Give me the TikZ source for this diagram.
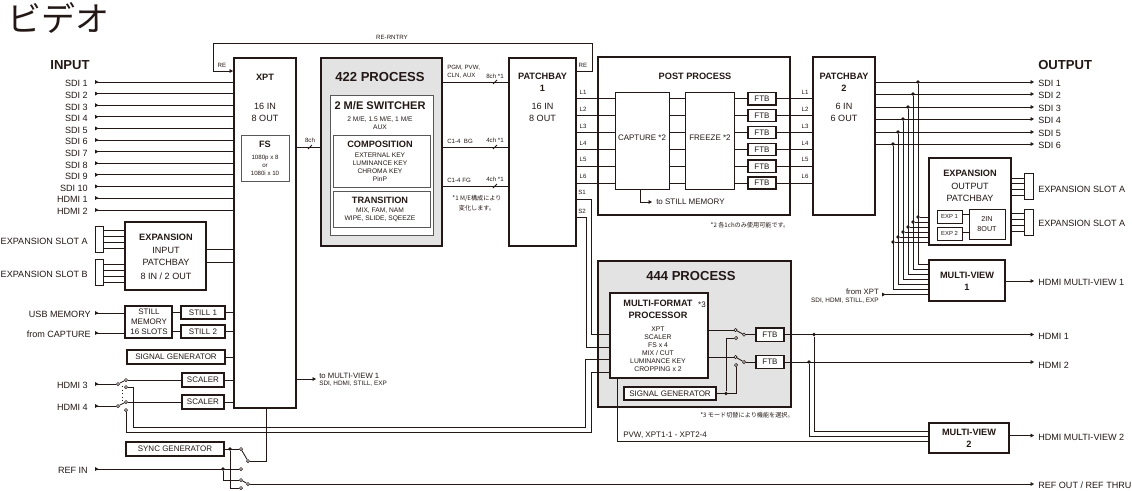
\documentclass[tikz,border=0pt]{standalone}
\usepackage{fontspec}
\setmainfont{Liberation Sans}
\newfontfamily\cjk{Noto Sans CJK JP}
\usetikzlibrary{arrows.meta,calc,fit}
\definecolor{ink}{HTML}{231815}
\definecolor{panel}{HTML}{E3E3E3}
\definecolor{frameg}{HTML}{595757}
\newcommand{\fs}[1]{\fontsize{#1}{#1*1.25}\selectfont}
\newcommand{\bx}[6][hbox]{\node[#1,fit={(#3,#4)(#5,#6)}] (#2) {};}
\tikzset{
 hbox/.style={draw=ink,line width=1.5pt,fill=white,inner sep=0pt},
 mbox/.style={draw=ink,line width=1.1pt,fill=white,inner sep=0pt},
 lbox/.style={draw=ink,line width=.6pt,fill=white,inner sep=0pt},
 gbox/.style={draw=frameg,line width=.7pt,fill=white,inner sep=0pt},
 pbox/.style={draw=ink,line width=1.5pt,fill=panel,inner sep=0pt},
 ctr/.style={inner sep=0pt,align=center,text=ink},
 lblr/.style={ctr,anchor=east,text height=.72em,text depth=0pt,font=\fontsize{6.8}{8}\selectfont},
 lbll/.style={ctr,anchor=west,text height=.72em,text depth=0pt,font=\fontsize{6.8}{8}\selectfont},
 bigb/.style={ctr,font=\fontsize{9.8}{12}\selectfont\bfseries},
 hdb/.style={ctr,font=\fontsize{6.9}{9}\selectfont\bfseries},
 big/.style={ctr,font=\fontsize{6.8}{8.7}\selectfont},
 mid/.style={ctr,font=\fontsize{6}{7.4}\selectfont},
 sml/.style={ctr,font=\fontsize{5}{6}\selectfont},
 tiny/.style={ctr,font=\fontsize{4.6}{6}\selectfont},
 note/.style={ctr,font=\fontsize{4.6}{7.5}\selectfont\cjk},
 wire/.style={draw=ink,line width=.65pt},
 inw/.style={wire,{Triangle[reversed,length=2.6pt,width=2.8pt]}-},
 outw/.style={wire,-{Triangle[length=2.6pt,width=2.8pt]}},
 cont/.style={circle,draw=ink,line width=.5pt,fill=white,inner sep=0pt,minimum size=2.3pt},
 jdot/.style={circle,fill=ink,inner sep=0pt,minimum size=2.7pt},
}
\begin{document}
\begin{tikzpicture}[x=.75pt,y=-.75pt]
\useasboundingbox (0,0) rectangle (1132,490);
% title and headers
\node[ctr,anchor=west,font=\fontsize{25.5}{30}\selectfont\cjk] (title) at (7,18) {ビデオ};
\node[bigb] (inhead) at (70,65) {INPUT};
\node[bigb,anchor=west] (outhead) at (1038,65) {OUTPUT};

% large frames
\bx{xpt}{234}{58}{296}{408}
\bx[pbox]{pr422}{321}{58}{442}{246}
\bx{pb1}{509}{58}{576}{246}
\bx{post}{598}{57}{790}{215}
\bx{pb2}{813}{57}{875}{215}
\bx[pbox]{pr444}{598}{261}{791}{407}
\bx[gbox]{fs}{241}{135}{289}{181}

% XPT
\node[hdb] (xptt) at (265,77) {XPT};
\node[big] (xptio) at (265,112.5) {16 IN\\8 OUT};
\node[hdb] (fst) at (265,144) {FS};
\node[ctr,font=\fontsize{4.6}{6}\selectfont] (fsd) at (265,165) {1080p x 8\\or\\1080i x 10};

% inputs
\foreach \n/\t/\y in {1/SDI 1/82,2/SDI 2/93.6,3/SDI 3/105.2,4/SDI 4/116.8,5/SDI 5/128.4,6/SDI 6/140,7/SDI 7/151.6,8/SDI 8/163.2,9/SDI 9/174.8,10/SDI 10/186.4,11/HDMI 1/198,12/HDMI 2/210}{
 \node[lblr] (in\n) at (88,\y) {\t};
 \draw[inw] ($(in\n.east)+(7,0)$) -- (xpt.west |- in\n.east);
}
% re-entry loop
\node[tiny] (reentry) at (392,37.5) {RE-RNTRY};
\node[tiny] (rel) at (222,65) {RE};
\node[tiny] (rer) at (583,65) {RE};
\coordinate (reout) at (pb1.east |- 0,71);
\draw[outw] (reout) -- (592,71) -- (592,43) -- (213,43) -- (213,71) -- (xpt.west |- 0,71);

% expansion input
\bx[hbox]{expin}{125}{222}{206}{290}
\bx[lbox]{slota}{95}{226}{103}{252}
\bx[lbox]{slotb}{95}{259}{103}{285}
\node[hdb] (expint) at (166,237) {EXPANSION};
\node[big] (expind) at (166,256.5) {INPUT\\PATCHBAY};
\node[big] (expinio) at (166,276) {8 IN / 2 OUT};
\node[lblr] (slotal) at (88,240) {EXPANSION SLOT A};
\node[lblr] (slotbl) at (88,273) {EXPANSION SLOT B};
\foreach \y in {230,236,242,248}{\draw[wire] (slota.east |- 0,\y) -- (expin.west |- 0,\y);}
\foreach \y in {264,270,276,282}{\draw[wire] (slotb.east |- 0,\y) -- (expin.west |- 0,\y);}
\foreach \y in {249,262}{\draw[wire] (expin.east |- 0,\y) -- (xpt.west |- 0,\y);}

% stills
\bx[mbox]{stm}{125}{306}{172}{338}
\bx[mbox]{st1}{181}{306}{225}{319}
\bx[mbox]{st2}{181}{325}{225}{338}
\node[mid] (stmt) at (149,322) {STILL\\MEMORY\\16 SLOTS};
\node[mid] (st1t) at (st1) {STILL 1};
\node[mid] (st2t) at (st2) {STILL 2};
\node[lblr] (usb) at (91,313) {USB MEMORY};
\node[lblr] (cap) at (91,333) {from CAPTURE};
\draw[inw] ($(usb.east)+(4,0)$) -- (stm.west |- usb.east);
\draw[inw] ($(cap.east)+(4,0)$) -- (stm.west |- cap.east);
\draw[wire] (stm.east |- st1) -- (st1);
\draw[wire] (stm.east |- st2) -- (st2);
\draw[wire] (st1) -- (xpt.west |- st1);
\draw[wire] (st2) -- (xpt.west |- st2);

% signal generator
\bx[mbox]{sgi}{127}{350}{225}{364}
\node[mid] (sgit) at (sgi) {SIGNAL GENERATOR};
\draw[wire] (sgi) -- (xpt.west |- sgi);

% HDMI 3/4 and scalers
\bx[mbox]{sc1}{182}{373}{224}{387}
\bx[mbox]{sc2}{182}{395}{224}{409}
\node[mid] (sc1t) at (sc1) {SCALER};
\node[mid] (sc2t) at (sc2) {SCALER};
\node[lblr] (h3) at (88,384) {HDMI 3};
\node[lblr] (h4) at (88,406) {HDMI 4};
\node[cont] (s3i) at (118,384) {};
\node[cont] (s3a) at (126,380) {};
\node[cont] (s3b) at (126,387) {};
\node[cont] (s4i) at (118,406) {};
\node[cont] (s4a) at (126,402) {};
\node[cont] (s4b) at (126,410) {};
\draw[inw] ($(h3.east)+(7,0)$) -- (s3i);
\draw[inw] ($(h4.east)+(7,0)$) -- (s4i);
\draw[wire] (s3i) -- (s3a);
\draw[wire] (s4i) -- (s4a);
\draw[wire] (s3a) -- (sc1.west |- s3a);
\draw[wire] (s4a) -- (sc2.west |- s4a);
\draw[wire,dotted,line width=.4pt] (122,386) -- (122,403);
\draw[wire] (sc1.east |- 0,380) -- (xpt.west |- 0,380);
\draw[wire] (sc2.east |- 0,402) -- (xpt.west |- 0,402);

% to multi-view 1
\node[ctr,anchor=west,font=\fontsize{5.8}{7}\selectfont] (tomv) at (319,375.5) {to MULTI-VIEW 1};
\node[ctr,anchor=west,font=\fontsize{4.8}{6}\selectfont] (tomvs) at (319,383.5) {SDI, HDMI, STILL, EXP};
\draw[outw] (xpt.east |- 0,379) -- (316,379);

% sync generator, ref
\bx[mbox]{sync}{126}{442}{224}{456}
\node[mid] (synct) at (sync) {SYNC GENERATOR};
\node[lblr] (refin) at (88,469) {REF IN};
\node[cont] (swa) at (241,449) {};
\node[cont] (swo) at (248,461) {};
\node[cont] (swr) at (241,469) {};
\node[cont] (swb) at (241,480) {};
\node[cont] (swc) at (241,488) {};
\node[cont] (swp) at (248,484) {};
\node[jdot] (jsy) at (230,449) {};
\node[jdot] (jre) at (223,469) {};
\draw[wire] (sync.east |- swa) -- (swa);
\draw[wire] (swa) -- (swo);
\draw[wire] (swo) -| (266,408);
\draw[inw] ($(refin.east)+(7,0)$) -- (swr);
\draw[wire] (jre) |- (swb);
\draw[wire] (jsy) |- (swc);
\draw[wire] (swb) -- (swp);
\node[lbll] (refout) at (1038,484) {REF OUT / REF THRU};
\draw[outw] (swp) -- ($(refout.west)+(-4,0)$);

% 8ch
\node[tiny] (ch8) at (310,140.5) {8ch};
\draw[wire] (xpt.east |- 0,147) -- (pr422.west |- 0,147);
\draw[wire] (308,149) -- (312,145);

% 422 process
\node[bigb] (t422) at (380,77) {422 PROCESS};
\bx[gbox]{sw2me}{330}{95}{433}{235}
\bx[gbox]{comp}{333}{135}{430}{187}
\bx[gbox]{trans}{333}{191}{430}{227}
\node[ctr,font=\fontsize{8.3}{10}\selectfont\bfseries] (t2me) at (380,106) {2 M/E SWITCHER};
\node[sml] (d2me) at (380,123) {2 M/E, 1.5 M/E, 1 M/E\\AUX};
\node[hdb] (tcomp) at (380,144) {COMPOSITION};
\node[sml] (dcomp) at (380,167.5) {EXTERNAL KEY\\LUMINANCE KEY\\CHROMA KEY\\PinP};
\node[hdb] (ttrans) at (380,200) {TRANSITION};
\node[sml] (dtrans) at (380,215) {MIX, FAM, NAM\\WIPE, SLIDE, SQEEZE};

% 422 to patchbay 1
\foreach \y/\x in {82/495,147/495,186/495}{
 \draw[wire] (pr422.east |- 0,\y) -- (pb1.west |- 0,\y);
 \draw[wire] (\x-2,\y+2) -- (\x+2,\y-2);
}
\node[tiny,anchor=west,align=left] (lpgm) at (447,71.5) {PGM, PVW,\\CLN, AUX};
\node[tiny] (c1) at (495,76) {8ch *1};
\node[tiny,anchor=west] (lbg) at (447,141) {C1-4\ \ BG};
\node[tiny] (c2) at (495,140) {4ch *1};
\node[tiny,anchor=west] (lfg) at (447,180) {C1-4 FG};
\node[tiny] (c3) at (495,179) {4ch *1};
\node[note] (n1) at (477,203) {*1 M/E構成により\\変化します。};

% patchbay 1
\node[hdb] (pb1t) at (542.5,82.5) {PATCHBAY\\1};
\node[big] (pb1d) at (542.5,112.5) {16 IN\\8 OUT};

% post process
\node[hdb] (postt) at (695,76) {POST PROCESS};
\bx[lbox]{capt}{615}{92}{669}{189}
\bx[lbox]{frz}{685}{92}{734}{189}
\node[mid] (captt) at (642,138) {CAPTURE *2};
\node[mid] (frzt) at (710,138) {FREEZE *2};
\foreach \n/\y in {1/98.7,2/115.5,3/132.5,4/149.5,5/166.3,6/183}{
 \bx[mbox]{ftb\n}{748}{\y-6.2}{776}{\y+6.2}
 \node[mid] (ftbt\n) at (ftb\n) {FTB};
 \draw[wire] (pb1.east |- ftb\n) -- (capt.west |- ftb\n);
 \draw[wire] (capt.east |- ftb\n) -- (frz.west |- ftb\n);
 \draw[wire] (frz.east |- ftb\n) -- (ftb\n.west);
 \draw[wire] (ftb\n.east) -- (pb2.west |- ftb\n);
 \node[tiny] (la\n) at (583,\y-6.5) {L\n};
 \node[tiny] (lb\n) at (805,\y-6.5) {L\n};
}
\node[mid,anchor=west] (tost) at (656,202) {to STILL MEMORY};
\draw[outw] (640,189) |- ($(tost.west)+(-4,0)$);
\node[note] (n2) at (750,225) {*2 各1chのみ使用可能です。};

% patchbay 2
\node[hdb] (pb2t) at (844,82.5) {PATCHBAY\\2};
\node[big] (pb2d) at (844,112.5) {6 IN\\6 OUT};

% S1, S2
\node[tiny] (ls1) at (582,192.5) {S1};
\node[tiny] (ls2) at (582,211) {S2};
\draw[wire] (pb1.east |- 0,199) -| (591,334);
\draw[wire] (pb1.east |- 0,217) -| (586,347);

% 444 process
\node[bigb] (t444) at (691,276) {444 PROCESS};
\bx[mbox]{mfp}{610}{293}{708}{378}
\node[hdb] (mfpt) at (658,309.5) {MULTI-FORMAT\\PROCESSOR};
\node[mid] (mfp3) at (702,305) {*3};
\node[ctr,font=\fontsize{5.1}{6}\selectfont] (mfpd) at (658,349) {XPT\\SCALER\\FS x 4\\MIX / CUT\\LUMINANCE KEY\\CROPPING x 2};
\draw[wire] (591,334) -- (mfp.west |- 0,334);
\draw[wire] (586,347) -- (mfp.west |- 0,347);
\draw[wire] (s3b) -- (133,387) -- (133,427) -- (585,427) -- (585,359) -- (mfp.west |- 0,359);
\draw[wire] (s4b) -- (126,432) -- (591,432) -- (591,372) -- (mfp.west |- 0,372);

\bx[mbox]{sg2}{624}{387}{716}{400}
\node[mid] (sg2t) at (sg2) {SIGNAL GENERATOR};
\bx[mbox]{ftbh1}{756}{328}{784}{341.5}
\bx[mbox]{ftbh2}{756}{355.5}{784}{368.5}
\node[mid] (ftbh1t) at (ftbh1) {FTB};
\node[mid] (ftbh2t) at (ftbh2) {FTB};
\node[cont] (h1i) at (735.5,330) {};
\node[cont] (h1l) at (736,338) {};
\node[cont] (h1o) at (744,334.7) {};
\node[cont] (h2i) at (735.5,357) {};
\node[cont] (h2l) at (736,365) {};
\node[cont] (h2o) at (744,362) {};
\node[jdot] (jsg) at (726,393.5) {};
\draw[wire] (mfp.east |- h1i) -- (h1i);
\draw[wire] (mfp.east |- h2i) -- (h2i);
\draw[wire] (h1i) -- (h1o);
\draw[wire] (h2i) -- (h2o);
\draw[wire] (h1o) -- (ftbh1.west |- h1o);
\draw[wire] (h2o) -- (ftbh2.west |- h2o);
\draw[wire] (sg2.east |- jsg) -| (h2l);
\draw[wire] (jsg) |- (h1l);
\node[note] (n3) at (747,415) {*3 モード切替により機能を選択。};

% HDMI outs
\node[lbll] (hout1) at (1038,335) {HDMI 1};
\node[lbll] (hout2) at (1038,364) {HDMI 2};
\draw[outw] (ftbh1.east |- 0,334.5) -- (1034,334.5);
\draw[outw] (ftbh2.east |- 0,362) -- (1034,362);
\node[jdot] (jh1) at (814,334.5) {};
\node[jdot] (jh2) at (809,362) {};

% multi-view 2
\bx[hbox]{mv2}{929}{423}{1009}{453}
\node[hdb] (mv2t) at (969,438.5) {MULTI-VIEW\\2};
\draw[wire] (jh1) |- (mv2.west |- 0,431);
\draw[wire] (jh2) |- (mv2.west |- 0,436);
\draw[wire] (617,378) |- (mv2.west |- 0,441);
\node[mid,anchor=west] (pvw) at (623,435) {PVW, XPT1-1 - XPT2-4};
\node[lbll] (mv2o) at (1038,435.5) {HDMI MULTI-VIEW 2};
\draw[outw] (mv2.east |- mv2o.west) -- ($(mv2o.west)+(-4,0)$);

% expansion output & multi-view 1
\bx[hbox]{expout}{929}{158}{1011}{245}
\bx[hbox]{mv1}{929}{260}{1005}{301}
\node[hdb] (expoutt) at (970,173) {EXPANSION};
\node[big] (expoutd) at (970,192.5) {OUTPUT\\PATCHBAY};
\bx[lbox]{exp1}{937}{210}{962}{223}
\bx[lbox]{exp2}{937}{227}{962}{240}
\bx[lbox]{twoin}{969}{209}{1005}{239}
\node[ctr,font=\fontsize{4.4}{6}\selectfont] (exp1t) at (exp1) {EXP 1};
\node[ctr,font=\fontsize{4.4}{6}\selectfont] (exp2t) at (exp2) {EXP 2};
\node[ctr,font=\fontsize{5.4}{7}\selectfont] (twoint) at (twoin) {2IN\\8OUT};
\draw[wire] (exp1.east |- 0,214.5) -- (twoin.west |- 0,214.5);
\draw[wire] (exp2.east |- 0,232.5) -- (twoin.west |- 0,232.5);
\bx[lbox]{slot3}{1024}{173}{1033}{199}
\bx[lbox]{slot4}{1024}{209}{1033}{235}
\foreach \y in {178,183.5,189,195}{\draw[wire] (expout.east |- 0,\y) -- (slot3.west |- 0,\y);}
\foreach \y in {213.5,219.5,225,231}{\draw[wire] (expout.east |- 0,\y) -- (slot4.west |- 0,\y);}
\node[lbll] (slot3l) at (1038,188) {EXPANSION SLOT A};
\node[lbll] (slot4l) at (1038,222) {EXPANSION SLOT A};
\node[hdb] (mv1t) at (967,281.5) {MULTI-VIEW\\1};
\node[lbll] (mv1o) at (1038,281) {HDMI MULTI-VIEW 1};
\draw[outw] (mv1.east |- mv1o.west) -- ($(mv1o.west)+(-4,0)$);
\node[ctr,anchor=east,font=\fontsize{5.8}{7}\selectfont] (fx) at (879,292) {from XPT};
\node[ctr,anchor=east,font=\fontsize{4.8}{6}\selectfont] (fxs) at (879,300.5) {SDI, HDMI, STILL, EXP};
\draw[inw] (882,294.5) -- (mv1.west |- 0,294.5);

% SDI outputs with taps
\foreach \n/\y/\x/\ey/\my in {1/82/918/217/264,2/94/913/222/269,3/107/908/227/274,4/119/903/232/279,5/132/898/237/284,6/144/893/242/289}{
 \node[lbll] (out\n) at (1038,\y) {SDI \n};
 \draw[outw] (pb2.east |- out\n.west) -- ($(out\n.west)+(-4,0)$);
 \node[jdot] (ja\n) at (\x,\y) {};
 \node[jdot] (jb\n) at (\x,\ey) {};
 \draw[wire] (ja\n) |- (mv1.west |- 0,\my);
 \draw[wire] (jb\n) -- (expout.west |- jb\n);
}
\end{tikzpicture}
\end{document}
